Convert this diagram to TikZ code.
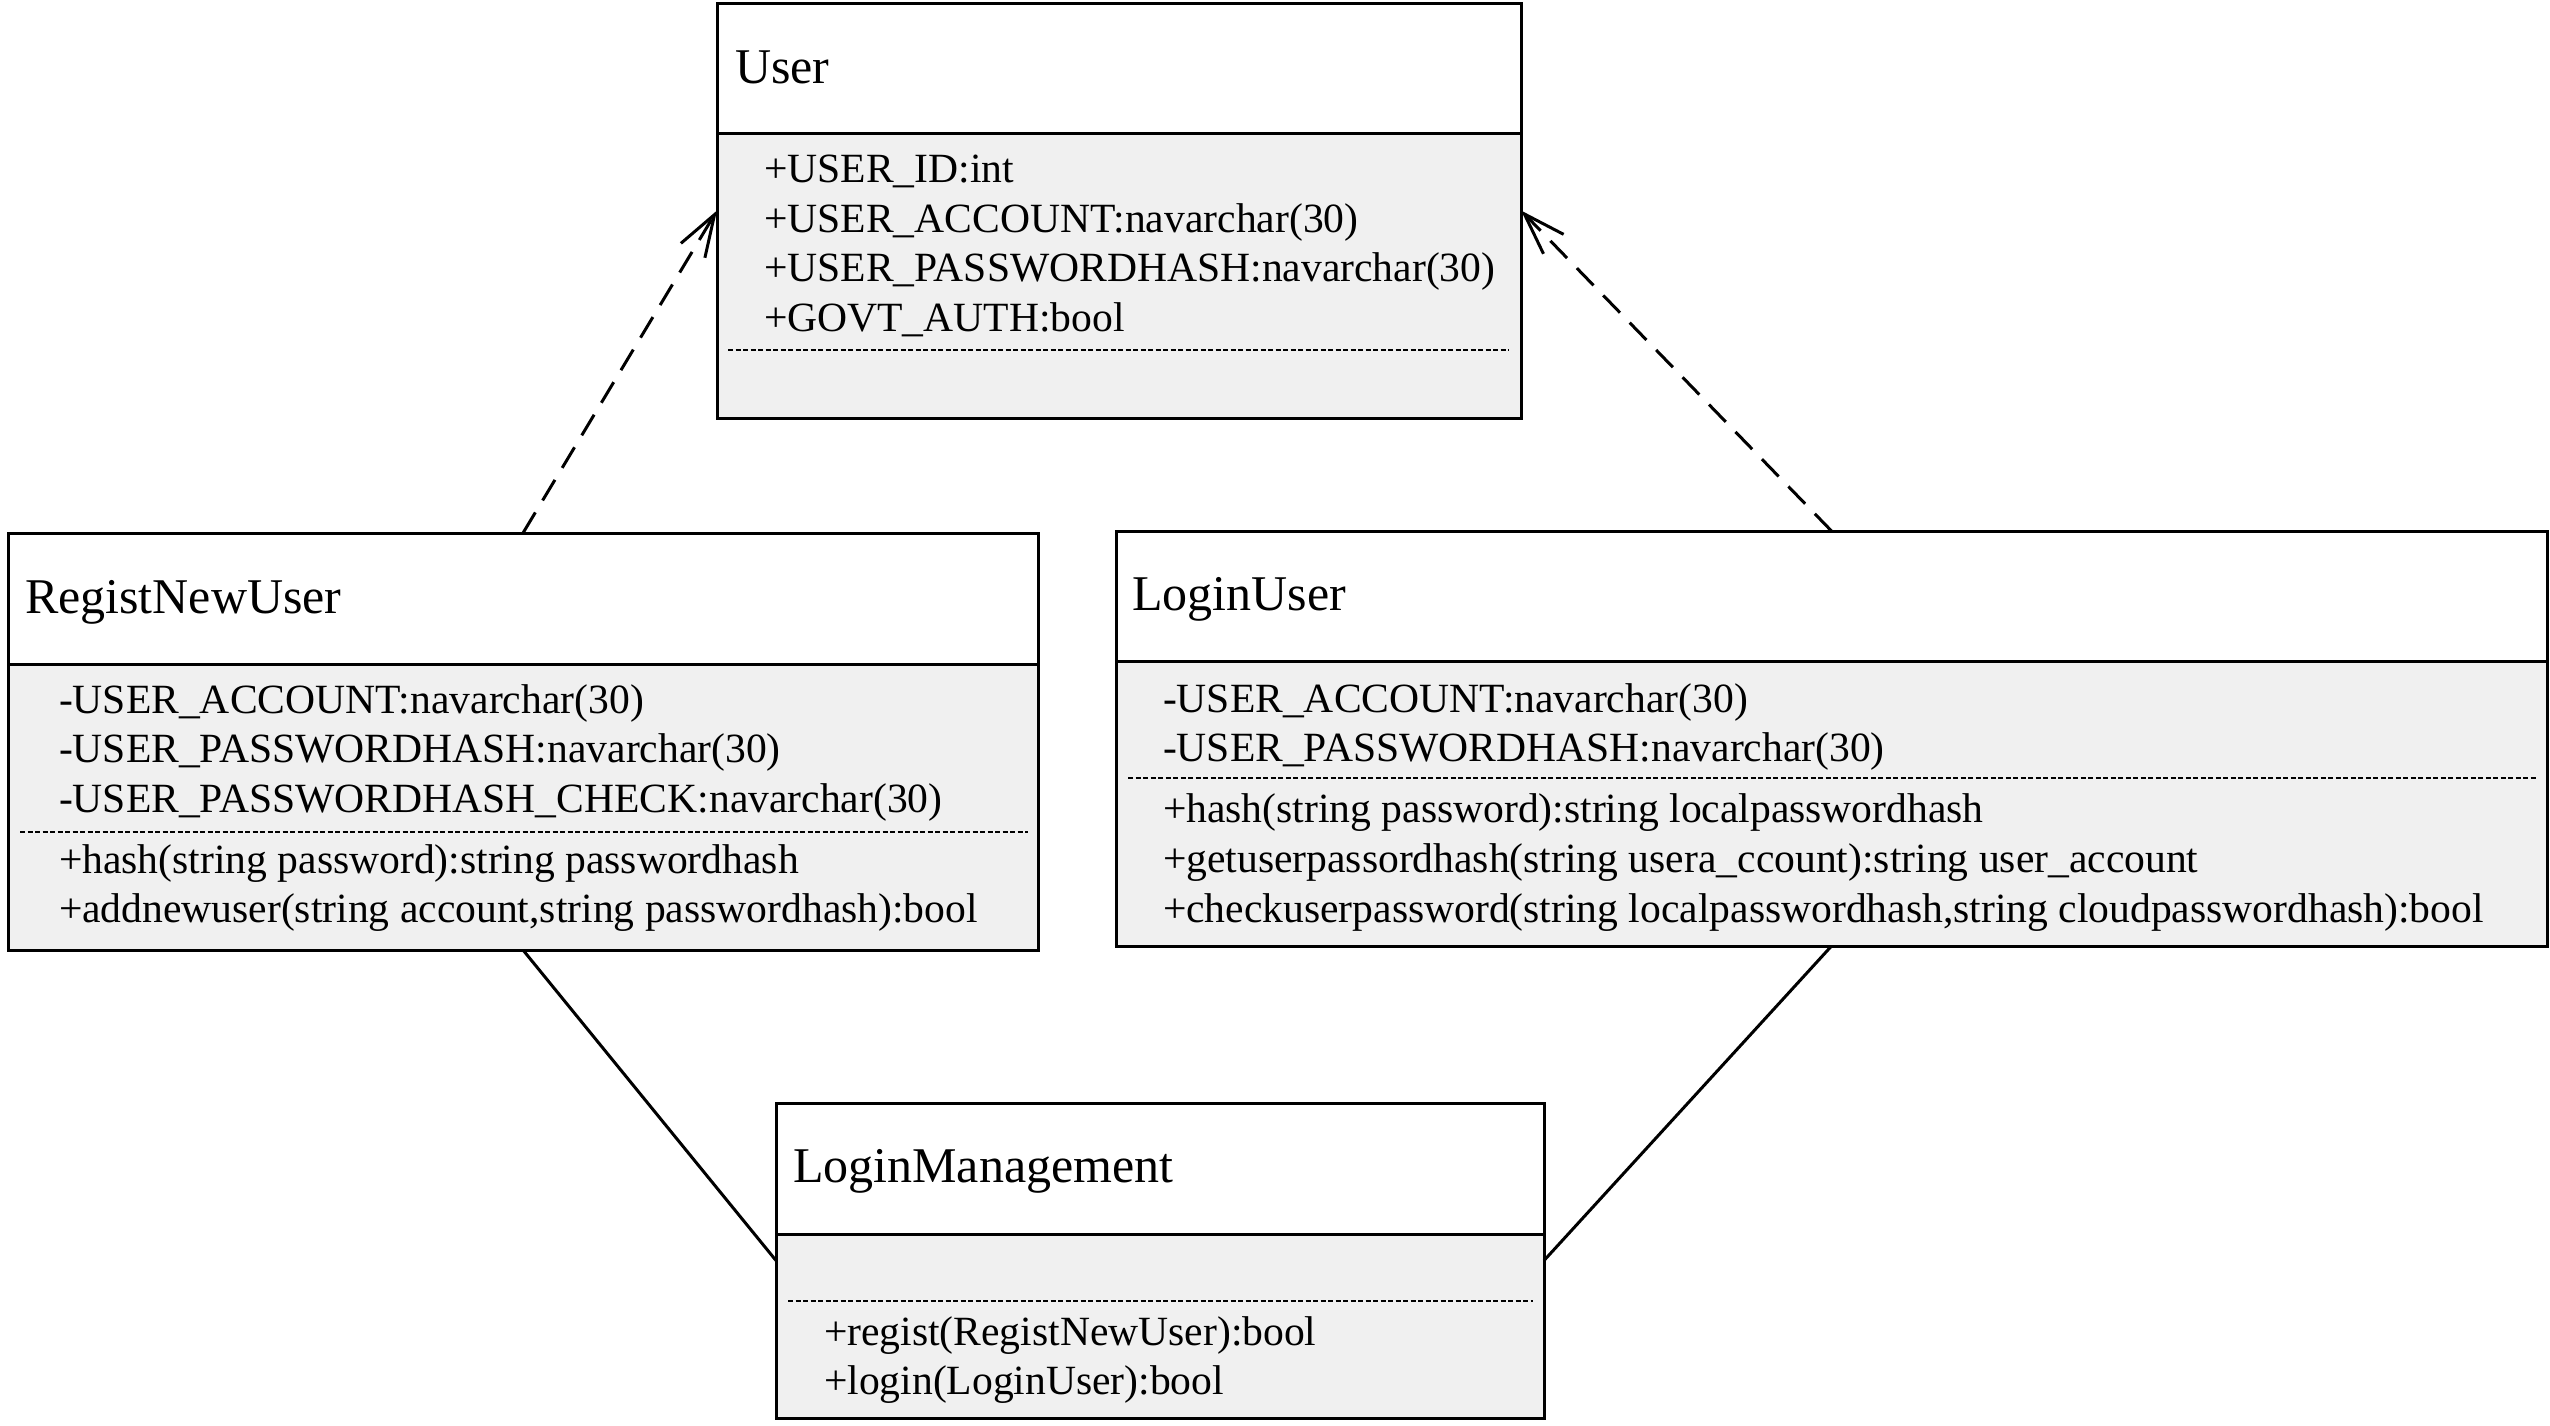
\documentclass[tikz,border=0pt]{standalone}
\usepackage{fontspec}
\setmainfont{Liberation Serif}
\usetikzlibrary{arrows.meta}
\definecolor{attrgray}{HTML}{F0F0F0}
\tikzset{
  classbox/.style={draw=black, line width=3pt, rectangle, inner sep=0pt, outer sep=0pt, anchor=north west},
  classtitle/.style={anchor=base west, inner sep=0pt, outer sep=0pt, font=\fontsize{50}{60}\selectfont},
  member/.style={anchor=base west, inner sep=0pt, outer sep=0pt, font=\fontsize{41.6}{50}\selectfont},
  sepline/.style={line width=3pt},
  dotsep/.style={line width=2pt, dash pattern=on 5pt off 2.5pt},
  realize/.style={line width=3pt, dash pattern=on 24pt off 14pt, -{Straight Barb[length=42pt, width=28pt, line width=3pt]}},
  assoc/.style={line width=3pt},
}
\begin{document}
\begin{tikzpicture}[x=1pt, y=-1pt]
\fill[white] (0,0) rectangle (2550,1425);
\useasboundingbox (0,0) rectangle (2550,1425);

% ---------- User ----------
\fill[attrgray] (717,133) rectangle (1521,418);
\node[classbox, minimum width=804pt, minimum height=415pt] (user) at (717,3) {};
\draw[sepline] (717,133) -- (1521,133);
\draw[dotsep] (728,350) -- (1509,350);
\node[classtitle] (usert) at (735,83) {User};
\node[member] (u1) at (764,182) {+USER\_ID:int};
\node[member] (u2) at (764,232) {+USER\_ACCOUNT:navarchar(30)};
\node[member] (u3) at (764,281) {+USER\_PASSWORDHASH:navarchar(30)};
\node[member] (u4) at (764,331) {+GOVT\_AUTH:bool};

% ---------- RegistNewUser ----------
\fill[attrgray] (8,664) rectangle (1038,950);
\node[classbox, minimum width=1030pt, minimum height=417pt] (reg) at (8,533) {};
\draw[sepline] (8,664) -- (1038,664);
\draw[dotsep] (20,832) -- (1028,832);
\node[classtitle] (regt) at (25,613) {RegistNewUser};
\node[member] (r1) at (59,713) {-USER\_ACCOUNT:navarchar(30)};
\node[member] (r2) at (59,762) {-USER\_PASSWORDHASH:navarchar(30)};
\node[member] (r3) at (59,812) {-USER\_PASSWORDHASH\_CHECK:navarchar(30)};
\node[member] (r4) at (59,873) {+hash(string password):string passwordhash};
\node[member] (r5) at (59,922) {+addnewuser(string account,string passwordhash):bool};

% ---------- LoginUser ----------
\fill[attrgray] (1116,661) rectangle (2547,946);
\node[classbox, minimum width=1431pt, minimum height=415pt] (login) at (1116,531) {};
\draw[sepline] (1116,661) -- (2547,661);
\draw[dotsep] (1128,778) -- (2536,778);
\node[classtitle] (logint) at (1132,610) {LoginUser};
\node[member] (l1) at (1163,712) {-USER\_ACCOUNT:navarchar(30)};
\node[member] (l2) at (1163,761) {-USER\_PASSWORDHASH:navarchar(30)};
\node[member] (l3) at (1163,822) {+hash(string password):string localpasswordhash};
\node[member] (l4) at (1163,872) {+getuserpassordhash(string usera\_ccount):string user\_account};
\node[member] (l5) at (1163,922) {+checkuserpassword(string localpasswordhash,string cloudpasswordhash):bool};

% ---------- LoginManagement ----------
\fill[attrgray] (776,1234) rectangle (1544,1418);
\node[classbox, minimum width=768pt, minimum height=315pt] (mgmt) at (776,1103) {};
\draw[sepline] (776,1234) -- (1544,1234);
\draw[dotsep] (788,1301) -- (1533,1301);
\node[classtitle] (mgmtt) at (793,1182) {LoginManagement};
\node[member] (m1) at (824,1345) {+regist(RegistNewUser):bool};
\node[member] (m2) at (824,1394) {+login(LoginUser):bool};

% ---------- connectors ----------
\draw[realize] (reg.north) -- (user.west);
\draw[realize] (login.north) -- (user.east);
\draw[assoc] (reg.south) -- (mgmt.west);
\draw[assoc] (login.south) -- (mgmt.east);
\end{tikzpicture}
\end{document}
